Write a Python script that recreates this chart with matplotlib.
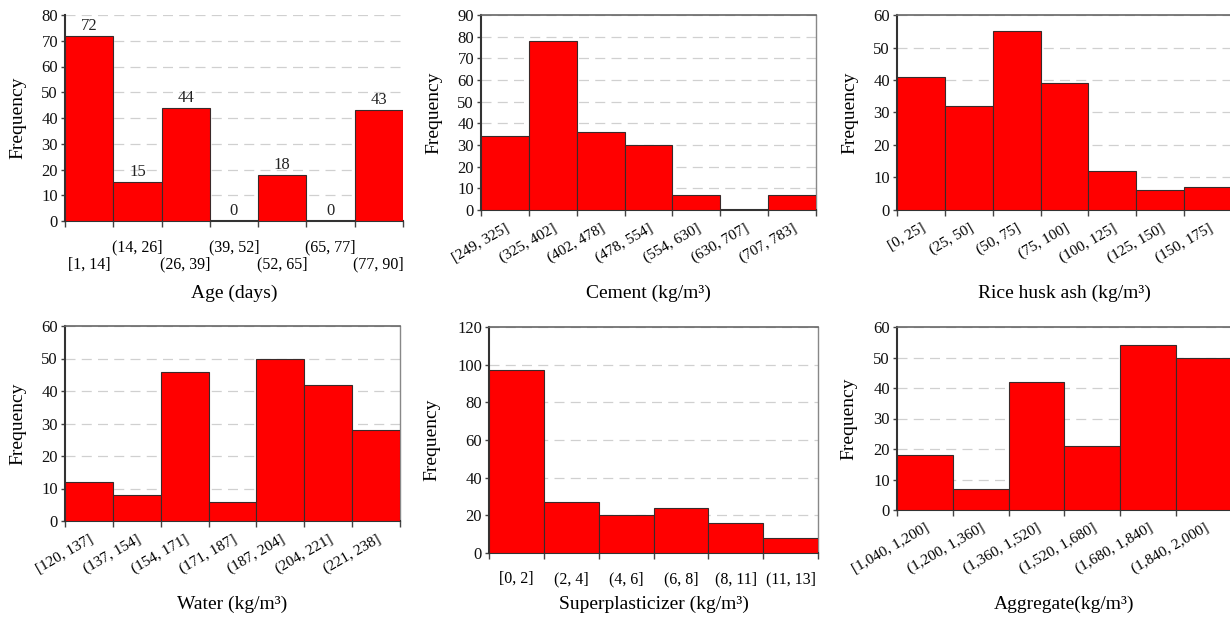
import matplotlib
matplotlib.use("Agg")
import matplotlib.pyplot as plt
import numpy as np

plt.rcParams['font.family'] = ['Liberation Serif', 'DejaVu Serif']

age_labels = ["[1, 14]", "(14, 26]", "(26, 39]", "(39, 52]", "(52, 65]", "(65, 77]", "(77, 90]"]
age_counts = [72, 15, 44, 0, 18, 0, 43]

cement_labels = ["[249, 325]", "(325, 402]", "(402, 478]", "(478, 554]", "(554, 630]", "(630, 707]", "(707, 783]"]
cement_counts = [34, 78, 36, 30, 7, 0, 7]

rha_labels = ["[0, 25]", "(25, 50]", "(50, 75]", "(75, 100]", "(100, 125]", "(125, 150]", "(150, 175]"]
rha_counts = [41, 32, 55, 39, 12, 6, 7]

water_labels = ["[120, 137]", "(137, 154]", "(154, 171]", "(171, 187]", "(187, 204]", "(204, 221]", "(221, 238]"]
water_counts = [12, 8, 46, 6, 50, 42, 28]

sp_labels = ["[0, 2]", "(2, 4]", "(4, 6]", "(6, 8]", "(8, 11]", "(11, 13]"]
sp_counts = [97, 27, 20, 24, 16, 8]

agg_labels = ["[1,040, 1,200]", "(1,200, 1,360]", "(1,360, 1,520]", "(1,520, 1,680]", "(1,680, 1,840]", "(1,840, 2,000]"]
agg_counts = [18, 7, 42, 21, 54, 50]

W, H = 1230, 620
fig = plt.figure(figsize=(12.3, 6.2), dpi=100)

def px_axes(l, r, t, b):
    return fig.add_axes([l / W, 1 - b / H, (r - l) / W, (b - t) / H])

def draw(ax, labels, counts, ymax, ystep, xlabel, mode, xlab_y, ylab_x, bottom_px, height_px, left_px, width_px, top_spine=True):
    n = len(counts)
    x = np.arange(n)
    ax.bar(x, counts, width=1.0, color='#ff0000', edgecolor='#3a2a2a', linewidth=0.8, zorder=3)
    ax.set_xlim(-0.5, n - 0.5)
    ax.set_ylim(0, ymax)
    ax.set_yticks(np.arange(0, ymax + 1, ystep))
    ax.yaxis.grid(True, linestyle=(0, (8, 5)), color='#d0d0d0', linewidth=0.9, zorder=0)
    ax.set_axisbelow(True)
    ax.tick_params(axis='y', labelsize=12, length=3, width=1, color='#444444', pad=2, labelcolor='#111111')
    # boundary ticks
    ax.set_xticks(np.arange(n + 1) - 0.5, minor=True)
    ax.tick_params(axis='x', which='minor', length=4, width=1, color='#444444')
    ax.set_xticks(x)
    if mode == 'stagger':
        lab = [("\n" + s) if i % 2 == 0 else (s + "\n") for i, s in enumerate(labels)]
        ax.set_xticklabels(lab, fontsize=11.5, linespacing=1.15)
        ax.tick_params(axis='x', which='major', length=0, pad=13)
    elif mode == 'flat':
        ax.set_xticklabels(labels, fontsize=11.5)
        ax.tick_params(axis='x', which='major', length=0, pad=13)
    else:
        ax.set_xticklabels(labels, fontsize=11, rotation=30, ha='right', rotation_mode='anchor')
        ax.tick_params(axis='x', which='major', length=0, pad=8)
    for side in ['left', 'bottom']:
        ax.spines[side].set_color('#333333')
        ax.spines[side].set_linewidth(1.5)
    ax.spines['top'].set_color('#666666')
    ax.spines['right'].set_color('#888888')
    ax.spines['top'].set_linewidth(1.2)
    ax.spines['right'].set_linewidth(1.0)
    if not top_spine:
        ax.spines['top'].set_visible(False)
        ax.spines['right'].set_visible(False)
    ax.set_xlabel(xlabel, fontsize=14)
    ax.xaxis.label.set_va('center')
    ax.xaxis.set_label_coords(0.5, -(xlab_y - bottom_px) / height_px)
    ax.set_ylabel('Frequency', fontsize=14)
    ax.yaxis.label.set_va('center')
    ax.yaxis.set_label_coords(-(left_px - ylab_x) / width_px, 0.5)

# Panel 1: Age
ax1 = px_axes(65, 403, 15, 221)
draw(ax1, age_labels, age_counts, 80, 10, 'Age (days)', 'stagger', 293, 18, 221, 206, 65, 338, top_spine=False)
for i, v in enumerate(age_counts):
    ax1.text(i, v + 0.8, str(v), ha='center', va='bottom', fontsize=12, color='#222222', zorder=4)

# Panel 2: Cement
ax2 = px_axes(481, 816, 15, 210)
draw(ax2, cement_labels, cement_counts, 90, 10, 'Cement (kg/m³)', 'rot', 293, 434, 210, 195, 481, 335)

# Panel 3: Rice husk ash
ax3 = px_axes(897, 1232, 15, 210)
draw(ax3, rha_labels, rha_counts, 60, 10, 'Rice husk ash (kg/m³)', 'rot', 293, 850, 210, 195, 897, 335)

# Panel 4: Water
ax4 = px_axes(65, 400, 326, 521)
draw(ax4, water_labels, water_counts, 60, 10, 'Water (kg/m³)', 'rot', 604, 18, 521, 195, 65, 335)

# Panel 5: Superplasticizer
ax5 = px_axes(489, 818, 327, 553)
draw(ax5, sp_labels, sp_counts, 120, 20, 'Superplasticizer (kg/m³)', 'flat', 604, 432, 553, 226, 489, 329)

# Panel 6: Aggregate
ax6 = px_axes(897, 1232, 327, 510)
draw(ax6, agg_labels, agg_counts, 60, 10, 'Aggregate(kg/m³)', 'rot', 604, 849, 510, 183, 897, 335)

fig.savefig('out.png', dpi=100)
